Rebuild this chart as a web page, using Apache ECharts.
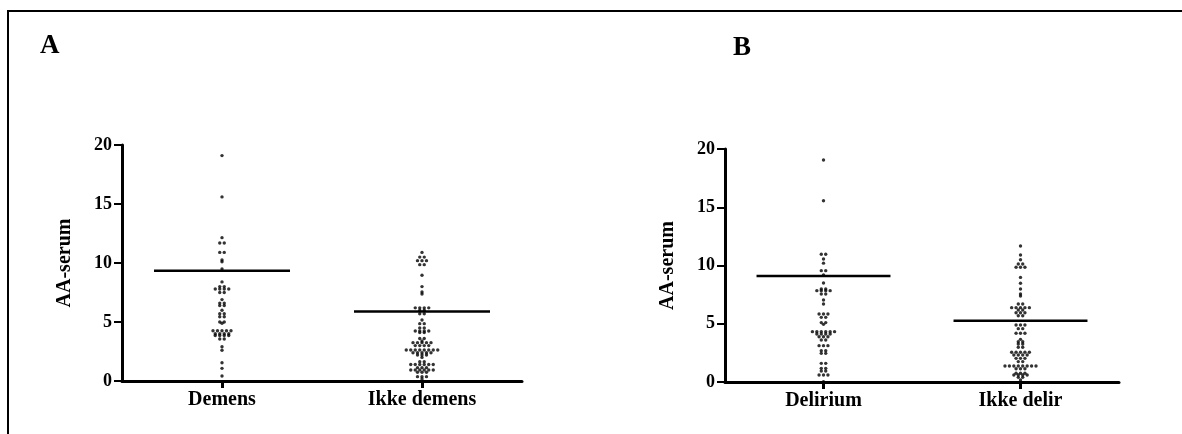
<!DOCTYPE html>
<html>
<head>
<meta charset="utf-8">
<script src="https://cdn.jsdelivr.net/npm/echarts@6/dist/echarts.min.js"></script>
<style>
  html, body { margin: 0; padding: 0; background: #fff; }
  #chart { width: 1182px; height: 434px; }
</style>
</head>
<body>
<div id="chart"></div>
<script>
// Group labels for the two panels
const catsA = ['Demens', 'Ikke demens'];
const catsB = ['Delirium', 'Ikke delir'];

// AA-serum values per group (repeated values sit on the same row)
const demens = [19.1, 15.6, 12.15, 11.7, 11.7, 10.9, 10.9, 10.25, 10.1, 9.5, 8.4, 8.0, 8.0,
  7.8, 7.8, 7.8, 7.8, 7.5, 7.5, 6.9, 6.6, 6.6, 6.4, 6.4, 6.0, 5.7, 5.7, 5.45, 5.45, 5.0, 5.0, 4.9,
  4.26, 4.26, 4.26, 4.26, 4.26, 4.0, 4.0, 4.0, 4.0, 3.85, 3.85, 3.85, 3.85, 3.56, 3.56,
  2.9, 2.6, 1.55, 1.07, 0.42];
const ikkeDemens = [10.9, 10.5, 10.5, 10.2, 10.2, 10.2, 9.86, 9.86, 8.96, 8.0, 7.54, 7.37,
  6.2, 6.2, 6.2, 6.2, 6.0, 6.0, 5.7, 5.7, 5.17, 4.86, 4.86, 4.5, 4.5, 4.24, 4.24, 4.24, 4.24,
  4.1, 4.1, 3.6, 3.6, 3.39, 3.25, 3.25, 3.25, 3.25, 3.25, 3.0, 3.0, 3.0, 3.0,
  2.63, 2.63, 2.63, 2.63, 2.63, 2.63, 2.63, 2.63, 2.4, 2.4, 2.4, 2.4, 2.4, 2.2, 2.2, 2.2, 2.0,
  1.64, 1.64, 1.4, 1.4, 1.4, 1.4, 1.4, 1.4, 1.13, 1.13, 1.13, 0.93, 0.93, 0.93, 0.93, 0.93, 0.93,
  0.74, 0.74, 0.74, 0.37, 0.37, 0.37, 0.17];
const delirium = [19.06, 15.56, 10.96, 10.96, 10.56, 10.2, 9.56, 9.56, 9.18, 8.5, 7.98, 7.98,
  7.84, 7.84, 7.84, 7.84, 7.55, 7.55, 7.04, 6.7, 5.84, 5.84, 5.84, 5.55, 5.55, 5.1, 5.1, 4.95,
  4.32, 4.32, 4.32, 4.32, 4.32, 4.32, 4.12, 4.12, 4.12, 4.12, 3.89, 3.89, 3.89, 3.6, 3.6,
  3.12, 3.12, 3.12, 2.69, 2.69, 2.46, 2.46, 1.6, 1.6, 1.17, 1.17, 0.94, 0.94, 0.6, 0.6, 0.6, 0.03];
const ikkeDelir = [11.67, 10.9, 10.5, 10.13, 10.13, 9.85, 9.85, 9.85, 8.98, 8.47, 7.98, 7.55, 7.38,
  6.7, 6.7, 6.38, 6.38, 6.38, 6.38, 6.38, 6.18, 6.18, 5.95, 5.95, 5.95, 5.69, 5.69,
  4.89, 4.89, 4.89, 4.58, 4.58, 4.18, 4.18, 4.18, 3.66, 3.46, 3.46, 3.26, 3.26, 2.98, 2.98,
  2.55, 2.55, 2.55, 2.55, 2.55, 2.32, 2.32, 2.32, 2.32, 2.03, 2.03, 2.03, 1.75, 1.75,
  1.37, 1.37, 1.37, 1.37, 1.37, 1.37, 1.37, 1.37, 1.14, 1.14, 1.14, 0.75, 0.75, 0.75,
  0.6, 0.6, 0.6, 0.6, 0.4, 0.4, 0.17];

// Group means (horizontal bars)
const meansA = [9.35, 5.9];
const meansB = [9.1, 5.25];

// Y axis range and step
const yMin = 0, yMax = 20, yStep = 5;

const FONT = '"Liberation Serif", "Times New Roman", serif';
const DOT_GAP = 0.045;   // horizontal spacing between dots in one row (x units)
const BAR_HALF = 0.68;   // half width of the mean bar (x units)

// Lay out dots of one group as a column: equal values share a row, centred on the group position
function swarm(values, center) {
  const rows = new Map();
  values.forEach(v => {
    if (!rows.has(v)) rows.set(v, 0);
    rows.set(v, rows.get(v) + 1);
  });
  const pts = [];
  rows.forEach((n, v) => {
    for (let i = 0; i < n; i++) {
      pts.push([center + (i - (n - 1) / 2) * DOT_GAP, v]);
    }
  });
  return pts;
}

function xAxisFor(gridIndex, cats) {
  return {
    type: 'value', gridIndex, min: 0, max: 4,
    axisLine: { show: true, lineStyle: { color: '#000', width: 3 } },
    axisTick: { show: true, customValues: [1, 3], length: 7, lineStyle: { color: '#000', width: 3 } },
    axisLabel: {
      show: true, customValues: [1, 3], margin: 9,
      formatter: v => cats[Math.round((v - 1) / 2)],
      color: '#000', fontFamily: FONT, fontWeight: 'bold', fontSize: 20
    },
    splitLine: { show: false }
  };
}

function yAxisFor(gridIndex) {
  return {
    type: 'value', gridIndex, min: yMin, max: yMax, interval: yStep,
    name: 'AA-serum', nameLocation: 'middle', nameRotate: 90, nameGap: 47,
    nameTextStyle: { color: '#000', fontFamily: FONT, fontWeight: 'bold', fontSize: 20 },
    axisLine: { show: true, lineStyle: { color: '#000', width: 3 } },
    axisTick: { show: true, length: 8, lineStyle: { color: '#000', width: 2 } },
    axisLabel: { color: '#000', fontFamily: FONT, fontWeight: 'bold', fontSize: 18, margin: 10 },
    splitLine: { show: false }
  };
}

function dots(values, center, idx) {
  return {
    type: 'scatter', xAxisIndex: idx, yAxisIndex: idx,
    data: swarm(values, center), symbol: 'circle', symbolSize: 3.4,
    itemStyle: { color: '#000' }, clip: false, silent: true
  };
}

function meanBar(mean, center, idx) {
  return {
    type: 'line', xAxisIndex: idx, yAxisIndex: idx,
    data: [[center - BAR_HALF, mean], [center + BAR_HALF, mean]],
    showSymbol: false, lineStyle: { color: '#000', width: 2.5 }, silent: true
  };
}

const chart = echarts.init(document.getElementById('chart'), null, { renderer: 'canvas' });
chart.setOption({
  animation: false,
  backgroundColor: '#fff',
  title: [
    { text: 'A', left: 40, top: 33, padding: 0,
      textStyle: { color: '#000', fontFamily: FONT, fontWeight: 'bold', fontSize: 27 } },
    { text: 'B', left: 733, top: 35, padding: 0,
      textStyle: { color: '#000', fontFamily: FONT, fontWeight: 'bold', fontSize: 27 } }
  ],
  grid: [
    { left: 122, top: 145, width: 400, height: 236 },
    { left: 725, top: 149, width: 394, height: 233 }
  ],
  xAxis: [xAxisFor(0, catsA), xAxisFor(1, catsB)],
  yAxis: [yAxisFor(0), yAxisFor(1)],
  series: [
    meanBar(meansA[0], 1, 0), meanBar(meansA[1], 3, 0),
    meanBar(meansB[0], 1, 1), meanBar(meansB[1], 3, 1),
    dots(demens, 1, 0), dots(ikkeDemens, 3, 0),
    dots(delirium, 1, 1), dots(ikkeDelir, 3, 1)
  ],
  graphic: [
    { type: 'polyline', silent: true,
      shape: { points: [[1182, 11], [8, 11], [8, 434]] },
      style: { stroke: '#000', lineWidth: 2, fill: null } }
  ]
});
</script>
</body>
</html>
